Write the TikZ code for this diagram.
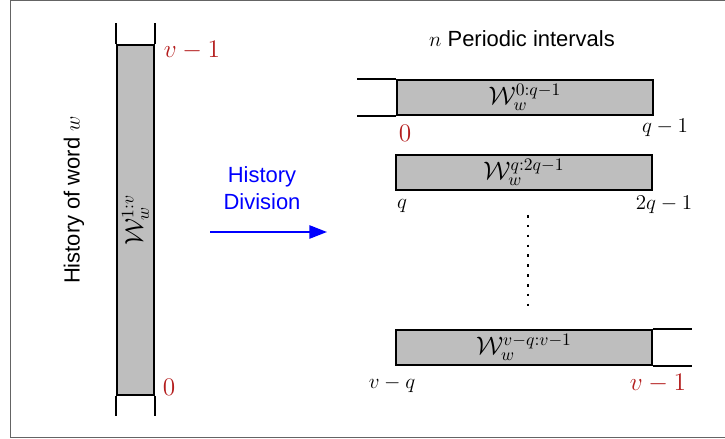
\documentclass[tikz,border=0pt]{standalone}
\usepackage{amsmath, amssymb}
\usepackage{fontspec}
\setsansfont{Liberation Sans}
\usepackage{tikz}
\usetikzlibrary{arrows.meta,positioning}
\definecolor{BarGray}{RGB}{190, 190, 190}
\definecolor{MarkRed}{RGB}{180, 30, 30}
\definecolor{FrameGray}{RGB}{100, 100, 100}
\definecolor{DivBlue}{RGB}{0, 0, 255}

\begin{document}
\begin{tikzpicture}[x=0.02cm, y=-0.02cm,
    histbar/.style={rectangle, draw=black, fill=BarGray, line width=1.1pt, minimum width=5.12cm, minimum height=0.7cm, inner sep=0pt, font=\fontsize{14.5}{16}\selectfont},
    idxmark/.style={inner sep=0pt, font=\fontsize{12}{14}\selectfont},
    redmark/.style={inner sep=0pt, text=MarkRed, font=\fontsize{13.5}{16}\selectfont},
    sanstext/.style={inner sep=0pt, align=center, font=\sffamily\fontsize{12.5}{15}\selectfont}
]
\useasboundingbox (0,0) rectangle (725,439);
\draw[FrameGray, line width=1pt] (10.5,0.5) rectangle (740,437.5);

% Whole history
\node[histbar, minimum width=0.74cm, minimum height=7cm] (whole) at (135.5,220) {};
\node[rotate=90, inner sep=0pt, font=\fontsize{14.5}{16}\selectfont] (wholelbl) at (whole.center) {$\mathcal{W}_w^{1:v}$};
\draw[line width=1.1pt] (whole.north west) -- ++(0,-21);
\draw[line width=1.1pt] (whole.north east) -- ++(0,-21);
\draw[line width=1.1pt] (whole.south west) -- ++(0,20);
\draw[line width=1.1pt] (whole.south east) -- ++(0,20);
\node[redmark] (wholetop) at (192,50) {$v-1$};
\node[redmark] (wholebot) at (169,387) {$0$};
\node[sanstext, rotate=90] (wordlbl) at (74,200) {History of word $w$};

% Division
\node[sanstext, text=DivBlue] (divlbl) at (262,188) {History\\Division};
\coordinate (divstart) at (210,232);
\coordinate (divend) at (327,232);
\draw[DivBlue, line width=1.1pt, -{Triangle[length=10pt, width=7.5pt]}] (divstart) -- (divend);

% Periodic intervals
\node[sanstext] (perlbl) at (522,39) {$n$ Periodic intervals};

\node[histbar] (seg1) at (525,97.5) {$\mathcal{W}_w^{0:q-1}$};
\draw[line width=1.1pt] (seg1.north west) -- ++(-39,0);
\draw[line width=1.1pt] (seg1.south west) -- ++(-39,0);
\node[redmark] (seg1a) at (405,133) {$0$};
\node[idxmark] (seg1b) at (665,128) {$q-1$};

\node[histbar] (seg2) at (524,172.5) {$\mathcal{W}_w^{q:2q-1}$};
\node[idxmark] (seg2a) at (402,206) {$q$};
\node[idxmark] (seg2b) at (664,205) {$2q-1$};

\coordinate (dotstop) at (528,215);
\coordinate (dotsbot) at (528,313);
\draw[line width=1.5pt, dash pattern=on 1.5pt off 4.1pt] (dotstop) -- (dotsbot);

\node[histbar] (segn) at (524,347.5) {$\mathcal{W}_w^{v-q:v-1}$};
\draw[line width=1.1pt] (segn.north east) -- ++(39,0);
\draw[line width=1.1pt] (segn.south east) -- ++(39,0);
\node[idxmark] (segna) at (392,384) {$v-q$};
\node[redmark] (segnb) at (658,383) {$v-1$};

\end{tikzpicture}
\end{document}
